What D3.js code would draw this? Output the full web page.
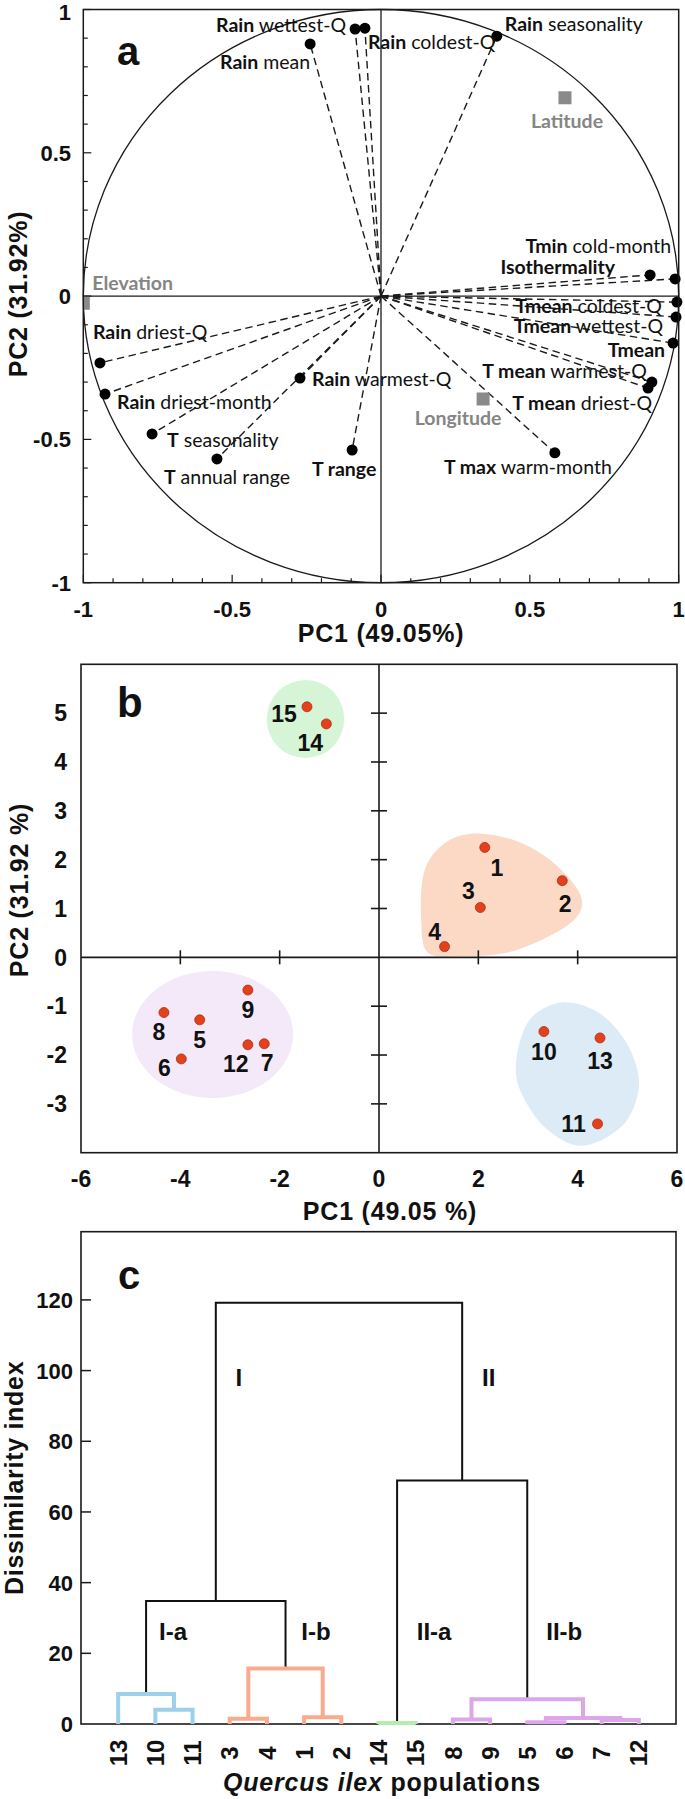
<!DOCTYPE html>
<html><head><meta charset="utf-8">
<script src="https://cdn.jsdelivr.net/npm/d3@7"></script>
<style>body{margin:0;background:#fff}</style>
</head><body>
<svg id="fig" width="685" height="1799" xmlns="http://www.w3.org/2000/svg"></svg>
<script>
// ================= DATA =================
// Panel a: variable loadings on PC1 / PC2
const varBold = ["Rain","Rain","Rain","Rain","Tmin","Isothermality","Tmean","Tmean","Tmean","T mean","T mean","T max","T range","Rain","Rain","Rain","T","T"];
const varRest = ["wettest-Q","coldest-Q","mean","seasonality","cold-month","","coldest-Q","wettest-Q","","warmest-Q","driest-Q","warm-month","","warmest-Q","driest-Q","driest-month","seasonality","annual range"];
const varPC1 = [-0.087,-0.054,-0.238,0.389,0.988,0.904,0.994,0.991,0.981,0.910,0.897,0.584,-0.097,-0.272,-0.944,-0.927,-0.769,-0.551];
const varPC2 = [0.932,0.935,0.880,0.907,0.060,0.074,-0.021,-0.073,-0.164,-0.300,-0.321,-0.547,-0.537,-0.286,-0.233,-0.342,-0.481,-0.568];
// supplementary (geographic) variables
const suppNames = ["Elevation","Latitude","Longitude"];
const suppPC1 = [-1.0,0.618,0.343];
const suppPC2 = [-0.025,0.692,-0.359];
const aTicks = [-1,-0.5,0,0.5,1];
const aTickLabels = ["-1","-0.5","0","0.5","1"];

// Panel b: population scores
const popIds = ["1","2","3","4","5","6","7","8","9","10","11","12","13","14","15"];
const popPC1 = [2.13,3.69,2.04,1.32,-3.61,-3.98,-2.31,-4.33,-2.64,3.32,4.40,-2.64,4.45,-1.06,-1.45];
const popPC2 = [2.25,1.57,1.02,0.22,-1.28,-2.08,-1.77,-1.13,-0.67,-1.52,-3.41,-1.79,-1.65,4.78,5.13];
const bXTicks = [-6,-4,-2,0,2,4,6];
const bYTicks = [-3,-2,-1,0,1,2,3,4,5];
// group outlines (PC units)
const groupIbPC1 = [1.86,2.74,3.54,4.08,3.98,2.74,1.69,0.98,0.85,0.94,1.34];
const groupIbPC2 = [2.53,2.39,1.91,1.20,0.82,0.14,0.03,0.10,0.75,1.84,2.35];
const groupIaPC1 = [3.71,4.40,4.95,5.22,5.20,4.90,4.06,3.36,2.90,2.76,2.83,3.10];
const groupIaPC2 = [-0.92,-1.12,-1.70,-2.40,-2.85,-3.45,-3.86,-3.50,-2.85,-2.40,-1.75,-1.20];
const ellipseGroups = ["II-a","II-b"];
const ellipseCx = [-1.48,-3.35];
const ellipseCy = [4.88,-1.58];
const ellipseRx = [0.78,1.62];
const ellipseRy = [0.80,1.30];

// Panel c: dendrogram
const leafOrder = ["13","10","11","3","4","1","2","14","15","8","9","5","6","7","12"];
const mergeA = ["10","13","3","1","m2","m1","14","8","5","7","m8","m7","m6","m5"];
const mergeB = ["11","m0","4","2","m3","m4","15","9","6","12","m9","m10","m11","m12"];
const mergeH = [4.0,8.5,1.5,1.9,15.7,34.8,0.3,1.3,0.5,1.1,1.7,7.0,68.9,119.2];
const mergeGroup = ["I-a","I-a","I-b","I-b","I-b","","II-a","II-b","II-b","II-b","II-b","II-b","",""];
const cTicks = [0,20,40,60,80,100,120];
const clusterNames = ["I","II","I-a","I-b","II-a","II-b"];
const clusterNode = ["m5","m12","m1","m4","m6","m11"];

// ================= LAYOUT / STYLE =================
const varLabelLayout = [["end",-9,3],["start",3,21],["end",0,25],["start",8,-5],["end",-4,-26],["end",-35,-1],
  ["end",-15,11],["end",-13,16],["end",-8,14],["end",-5,-4],["end",4,22],["middle",-27,21],["middle",-8,26],
  ["start",12,8],["start",-7,-24],["start",12,15],["start",15,13],["middle",10,25]];
const suppLabelLayout = [["start",9,-13],["middle",2,30],["middle",-25,26]];
const popLabelLayout = [[12,20],[3,23],[-12,-17],[-10,-15],[0,20],[-17,9],[3,19],[-5,19],[0,20],[0,20],[-24,0],[-12,19],[0,23],[-16,19],[-23,7]];
const clusterLabelLayout = [[23,98.2],[26.5,98.2],[27,26.3],[30.5,26.3],[37,26.3],[37,26.3]];
const groupColor = {"I-a":"#9dd0ea","I-b":"#f8ab8d","II-a":"#b4ecb1","II-b":"#dca6e8","":"#111"};
const groupFill = {"I-a":"#dcebf5","I-b":"#fbd9c5","II-a":"#d6f5d6","II-b":"#f4e9f8"};
const AX = "'Liberation Sans', Arial, Helvetica, sans-serif";
const LB = "Lato, 'Open Sans', sans-serif";
const ink = "#1a1a1a";

const svg = d3.select("#fig");
svg.append("rect").attr("width",685).attr("height",1799).attr("fill","#fff");

// ================= PANEL A =================
{
  const x = d3.scaleLinear().domain([-1,1]).range([83.3,678.7]);
  const y = d3.scaleLinear().domain([-1,1]).range([582.7,9.5]);
  const g = svg.append("g");
  g.append("clipPath").attr("id","clipA").append("rect")
    .attr("x",x(-1)).attr("y",y(1)).attr("width",x(1)-x(-1)).attr("height",y(-1)-y(1));
  // correlation circle
  g.append("ellipse").attr("cx",x(0)).attr("cy",y(0)).attr("rx",x(1)-x(0)).attr("ry",y(0)-y(1))
    .attr("fill","none").attr("stroke",ink).attr("stroke-width",1.3);
  // zero axes
  g.append("line").attr("x1",x(-1)).attr("x2",x(1)).attr("y1",y(0)).attr("y2",y(0)).attr("stroke",ink).attr("stroke-width",1.3);
  g.append("line").attr("x1",x(0)).attr("x2",x(0)).attr("y1",y(-1)).attr("y2",y(1)).attr("stroke",ink).attr("stroke-width",1.3);
  // ticks (inside)
  const minor = d3.range(-10,11).map(d=>d/10);
  const isMajor = d=>Math.abs(d*2-Math.round(d*2))<1e-6;
  g.selectAll(".tb").data(minor).join("line")
    .attr("x1",d=>x(d)).attr("x2",d=>x(d)).attr("y1",y(-1)).attr("y2",d=>y(-1)-(isMajor(d)?8:4.5))
    .attr("stroke",ink).attr("stroke-width",1.2);
  g.selectAll(".tl").data(minor).join("line")
    .attr("y1",d=>y(d)).attr("y2",d=>y(d)).attr("x1",x(-1)).attr("x2",d=>x(-1)+(isMajor(d)?8:4.5))
    .attr("stroke",ink).attr("stroke-width",1.2);
  // dashed loadings
  const idx = d3.range(varPC1.length);
  g.selectAll(".ld").data(idx).join("line")
    .attr("x1",x(0)).attr("y1",y(0)).attr("x2",i=>x(varPC1[i])).attr("y2",i=>y(varPC2[i]))
    .attr("stroke",ink).attr("stroke-width",1.4).attr("stroke-dasharray","7.5,4.5");
  g.selectAll(".dt").data(idx).join("circle")
    .attr("cx",i=>x(varPC1[i])).attr("cy",i=>y(varPC2[i])).attr("r",5.5).attr("fill","#000");
  // supplementary squares
  const sidx = d3.range(suppNames.length);
  g.append("g").attr("clip-path","url(#clipA)").selectAll("rect").data(sidx).join("rect")
    .attr("x",i=>x(suppPC1[i])-6.5).attr("y",i=>y(suppPC2[i])-6.5).attr("width",13).attr("height",13).attr("fill","#8a8a8a");
  g.selectAll(".sl").data(sidx).join("text")
    .attr("x",i=>x(suppPC1[i])+suppLabelLayout[i][1]).attr("y",i=>y(suppPC2[i])+suppLabelLayout[i][2])
    .attr("text-anchor",i=>suppLabelLayout[i][0]).attr("font-family",LB).attr("font-weight","bold")
    .attr("font-size",19.5).attr("fill","#858585").text(i=>suppNames[i]);
  // variable labels
  const lab = g.selectAll(".vl").data(idx).join("text")
    .attr("x",i=>x(varPC1[i])+varLabelLayout[i][1]).attr("y",i=>y(varPC2[i])+varLabelLayout[i][2])
    .attr("text-anchor",i=>varLabelLayout[i][0]).attr("font-family",LB).attr("font-size",19.5).attr("fill","#111");
  lab.append("tspan").attr("font-weight","bold").text(i=>varBold[i]);
  lab.append("tspan").attr("font-weight","normal").text(i=>varRest[i]?" "+varRest[i]:"");
  // frame
  g.append("rect").attr("x",x(-1)).attr("y",y(1)).attr("width",x(1)-x(-1)).attr("height",y(-1)-y(1))
    .attr("fill","none").attr("stroke",ink).attr("stroke-width",1.5);
  // tick labels
  g.selectAll(".xl").data(aTicks).join("text").attr("x",d=>x(d)).attr("y",617).attr("text-anchor","middle")
    .attr("font-family",AX).attr("font-weight","bold").attr("font-size",22).attr("fill","#111").text((d,i)=>aTickLabels[i]);
  g.selectAll(".yl").data(aTicks).join("text").attr("x",71).attr("y",d=>Math.max(y(d),12)).attr("dy","0.36em").attr("text-anchor","end")
    .attr("font-family",AX).attr("font-weight","bold").attr("font-size",22).attr("fill","#111").text((d,i)=>aTickLabels[i]);
  g.append("text").attr("x",(x(-1)+x(1))/2).attr("y",642).attr("text-anchor","middle").attr("font-family",AX)
    .attr("font-weight","bold").attr("font-size",25).attr("letter-spacing",0.8).attr("fill","#111").text("PC1 (49.05%)");
  g.append("text").attr("transform","translate(27,294) rotate(-90)").attr("text-anchor","middle").attr("font-family",AX)
    .attr("font-weight","bold").attr("font-size",25).attr("letter-spacing",0.8).attr("fill","#111").text("PC2 (31.92%)");
  g.append("text").attr("x",117).attr("y",65).attr("font-family",AX).attr("font-weight","bold").attr("font-size",40).attr("fill","#111").text("a");
}

// ================= PANEL B =================
{
  const x = d3.scaleLinear().domain([-6,6]).range([81,677]);
  const y = d3.scaleLinear().domain([-4,6]).range([1152.7,664.3]);
  const g = svg.append("g");
  // group shapes
  const line = d3.line().curve(d3.curveCatmullRomClosed.alpha(0.5));
  g.append("path").attr("d",line(groupIbPC1.map((v,i)=>[x(v),y(groupIbPC2[i])]))).attr("fill",groupFill["I-b"]);
  g.append("path").attr("d",line(groupIaPC1.map((v,i)=>[x(v),y(groupIaPC2[i])]))).attr("fill",groupFill["I-a"]);
  g.selectAll(".el").data(d3.range(ellipseGroups.length)).join("ellipse")
    .attr("cx",i=>x(ellipseCx[i])).attr("cy",i=>y(ellipseCy[i]))
    .attr("rx",i=>x(ellipseRx[i])-x(0)).attr("ry",i=>y(0)-y(ellipseRy[i]))
    .attr("fill",i=>groupFill[ellipseGroups[i]]);
  // frame and axes
  g.append("rect").attr("x",x(-6)).attr("y",y(6)).attr("width",x(6)-x(-6)).attr("height",y(-4)-y(6))
    .attr("fill","none").attr("stroke",ink).attr("stroke-width",1.6);
  g.append("line").attr("x1",x(-6)).attr("x2",x(6)).attr("y1",y(0)).attr("y2",y(0)).attr("stroke",ink).attr("stroke-width",1.6);
  g.append("line").attr("x1",x(0)).attr("x2",x(0)).attr("y1",y(-4)).attr("y2",y(6)).attr("stroke",ink).attr("stroke-width",1.6);
  g.selectAll(".xt").data(bXTicks.filter(d=>Math.abs(d)!==6 && d!==0)).join("line")
    .attr("x1",d=>x(d)).attr("x2",d=>x(d)).attr("y1",y(0)-7).attr("y2",y(0)+7).attr("stroke",ink).attr("stroke-width",1.6);
  g.selectAll(".yt").data(bYTicks.filter(d=>d!==0)).join("line")
    .attr("y1",d=>y(d)).attr("y2",d=>y(d)).attr("x1",x(0)-8).attr("x2",x(0)+8).attr("stroke",ink).attr("stroke-width",1.6);
  // points
  const idx = d3.range(popIds.length);
  g.selectAll(".pt").data(idx).join("circle").attr("cx",i=>x(popPC1[i])).attr("cy",i=>y(popPC2[i])).attr("r",5)
    .attr("fill","#e3401b").attr("stroke","#a8321a").attr("stroke-width",0.8);
  g.selectAll(".pl").data(idx).join("text").attr("x",i=>x(popPC1[i])+popLabelLayout[i][0]).attr("y",i=>y(popPC2[i])+popLabelLayout[i][1])
    .attr("dy","0.36em").attr("text-anchor","middle").attr("font-family",AX).attr("font-weight","bold").attr("font-size",23)
    .attr("fill","#111").text(i=>popIds[i]);
  // tick labels
  g.selectAll(".xl").data(bXTicks).join("text").attr("x",d=>x(d)).attr("y",1187).attr("text-anchor","middle")
    .attr("font-family",AX).attr("font-weight","bold").attr("font-size",23).attr("fill","#111").text(d=>d);
  g.selectAll(".yl").data(bYTicks).join("text").attr("x",67).attr("y",d=>y(d)).attr("dy","0.36em").attr("text-anchor","end")
    .attr("font-family",AX).attr("font-weight","bold").attr("font-size",23).attr("fill","#111").text(d=>d);
  g.append("text").attr("x",390).attr("y",1220).attr("text-anchor","middle").attr("font-family",AX)
    .attr("font-weight","bold").attr("font-size",25).attr("letter-spacing",0.8).attr("fill","#111").text("PC1 (49.05 %)");
  g.append("text").attr("transform","translate(28,890) rotate(-90)").attr("text-anchor","middle").attr("font-family",AX)
    .attr("font-weight","bold").attr("font-size",25).attr("letter-spacing",0.8).attr("fill","#111").text("PC2 (31.92 %)");
  g.append("text").attr("x",117).attr("y",717).attr("font-family",AX).attr("font-weight","bold").attr("font-size",42).attr("fill","#111").text("b");
}

// ================= PANEL C =================
{
  const x = d3.scalePoint().domain(leafOrder).range([81,676]).padding(1);
  const y = d3.scaleLinear().domain([0,139.3]).range([1724,1231.7]);
  const g = svg.append("g");
  g.append("rect").attr("x",81).attr("y",y(139.3)).attr("width",676-81).attr("height",y(0)-y(139.3))
    .attr("fill","none").attr("stroke",ink).attr("stroke-width",1.6);
  g.selectAll(".yt").data(cTicks.filter(d=>d>0)).join("line").attr("x1",81).attr("x2",91).attr("y1",d=>y(d)).attr("y2",d=>y(d))
    .attr("stroke",ink).attr("stroke-width",1.5);
  g.selectAll(".yl").data(cTicks).join("text").attr("x",73).attr("y",d=>y(d)).attr("dy","0.36em").attr("text-anchor","end")
    .attr("font-family",AX).attr("font-weight","bold").attr("font-size",22).attr("fill","#111").text(d=>d);
  // compute node positions
  const pos = {};
  leafOrder.forEach(l=>pos[l]={x:x(l),h:0});
  mergeH.forEach((h,i)=>{
    const a=pos[mergeA[i]], b=pos[mergeB[i]];
    pos["m"+i]={x:(a.x+b.x)/2,h:h};
  });
  const order = d3.range(mergeH.length).sort((i,j)=>(mergeGroup[i]===""?0:1)-(mergeGroup[j]===""?0:1));
  g.selectAll(".br").data(order).join("path")
    .attr("d",i=>{const a=pos[mergeA[i]], b=pos[mergeB[i]];
      return `M${a.x},${y(a.h)}V${y(mergeH[i])}H${b.x}V${y(b.h)}`;})
    .attr("fill","none").attr("stroke",i=>groupColor[mergeGroup[i]])
    .attr("stroke-width",i=>mergeGroup[i]===""?2:4).attr("stroke-linejoin","miter");
  // cluster labels
  g.selectAll(".cl").data(d3.range(clusterNames.length)).join("text")
    .attr("x",i=>pos[clusterNode[i]].x+clusterLabelLayout[i][0]).attr("y",i=>y(clusterLabelLayout[i][1]))
    .attr("dy","0.36em").attr("text-anchor","middle").attr("font-family",AX).attr("font-weight","bold").attr("font-size",24)
    .attr("fill","#111").text(i=>clusterNames[i]);
  // leaf labels
  g.selectAll(".ll").data(leafOrder).join("text")
    .attr("transform",d=>`translate(${x(d)},1753) rotate(-90)`).attr("dy","0.36em").attr("text-anchor","middle")
    .attr("font-family",AX).attr("font-weight","bold").attr("font-size",24).attr("fill","#111").text(d=>d);
  const t = g.append("text").attr("x",382).attr("y",1791).attr("text-anchor","middle").attr("font-family",AX)
    .attr("font-weight","bold").attr("font-size",25).attr("letter-spacing",0.8).attr("fill","#111");
  t.append("tspan").attr("font-style","italic").text("Quercus ilex");
  t.append("tspan").text(" populations");
  g.append("text").attr("transform",`translate(23,${(y(0)+y(139.3))/2}) rotate(-90)`).attr("text-anchor","middle").attr("font-family",AX)
    .attr("font-weight","bold").attr("font-size",25).attr("letter-spacing",0.7).attr("fill","#111").text("Dissimilarity index");
  g.append("text").attr("x",118).attr("y",1289).attr("font-family",AX).attr("font-weight","bold").attr("font-size",40).attr("fill","#111").text("c");
}
</script>
</body></html>
